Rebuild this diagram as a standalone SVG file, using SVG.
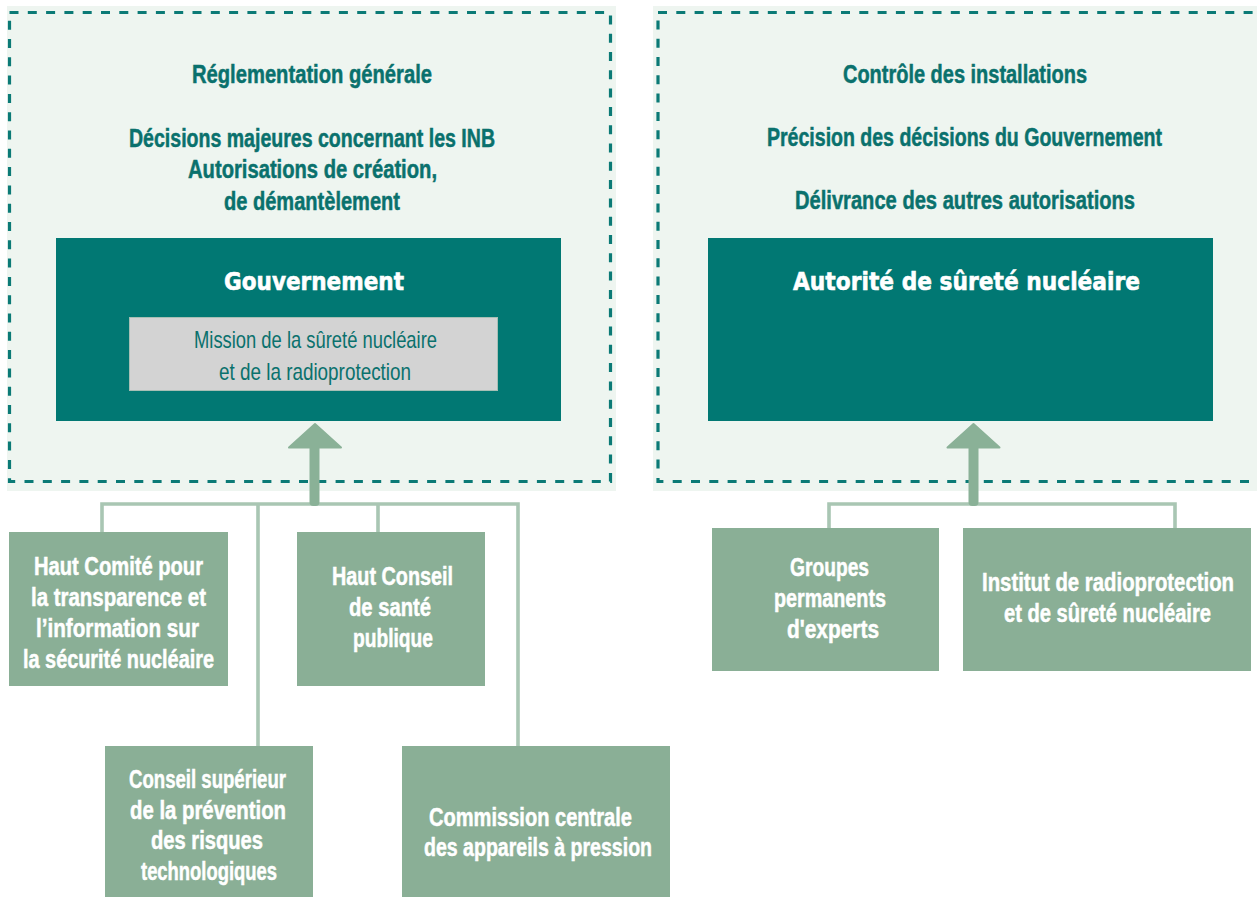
<svg xmlns="http://www.w3.org/2000/svg" width="1257" height="897" viewBox="0 0 1257 897">
  <style>
    .panel { fill: #eef5f0; }
    .frame { fill: none; stroke: #0b7a76; stroke-width: 3.2; stroke-dasharray: 9 9.3; }
    .dark { fill: #017873; }
    .mission { fill: #d3d3d3; stroke: #a7bfb5; stroke-width: 1; }
    .box { fill: #8aaf96; }
    .head { font-family: "Liberation Sans", Arial, sans-serif; font-weight: bold; font-size: 25px; fill: #0a716d; stroke: #0a716d; stroke-width: 0.5; text-anchor: middle; }
    .title { font-family: "DejaVu Sans", "Liberation Sans", sans-serif; font-weight: bold; font-size: 25px; fill: #ffffff; stroke: #ffffff; stroke-width: 0.6; text-anchor: middle; }
    .sub { font-family: "Liberation Sans", Arial, sans-serif; font-size: 24px; fill: #0a716d; text-anchor: middle; }
    .lbl { font-family: "Liberation Sans", Arial, sans-serif; font-weight: bold; font-size: 25px; fill: #ffffff; stroke: #ffffff; stroke-width: 0.5; text-anchor: middle; }
    .link { fill: none; stroke: #a9c6b3; stroke-width: 3.6; }
    .arrow { fill: #8ab197; stroke: #8ab197; stroke-width: 2; stroke-linejoin: round; }
  </style>

  <!-- Government side -->
  <g id="panel-government">
    <rect class="panel" x="7" y="6" width="609" height="485"/>
    <rect class="frame" x="9.5" y="12.5" width="601" height="469"/>
    <text class="head" x="312" y="83" textLength="240" lengthAdjust="spacingAndGlyphs">Réglementation générale</text>
    <text class="head" x="312" y="146.5" textLength="366" lengthAdjust="spacingAndGlyphs">Décisions majeures concernant les INB</text>
    <text class="head" x="312.5" y="178" textLength="249" lengthAdjust="spacingAndGlyphs">Autorisations de création,</text>
    <text class="head" x="312" y="209.5" textLength="176" lengthAdjust="spacingAndGlyphs">de démantèlement</text>
  </g>

  <g id="node-gouvernement">
    <rect class="dark" x="56" y="238" width="505" height="183"/>
    <text class="title" x="314" y="290" textLength="180" lengthAdjust="spacingAndGlyphs">Gouvernement</text>
  </g>

  <g id="node-mission">
    <rect class="mission" x="129.5" y="317.5" width="368" height="73"/>
    <text class="sub" x="315.5" y="348" textLength="243" lengthAdjust="spacingAndGlyphs">Mission de la sûreté nucléaire</text>
    <text class="sub" x="315" y="380" textLength="192" lengthAdjust="spacingAndGlyphs">et de la radioprotection</text>
  </g>

  <!-- Safety authority side -->
  <g id="panel-authority">
    <rect class="panel" x="653" y="6" width="610" height="485"/>
    <rect class="frame" x="658" y="12.5" width="610" height="469"/>
    <text class="head" x="965" y="83" textLength="244" lengthAdjust="spacingAndGlyphs">Contrôle des installations</text>
    <text class="head" x="964.5" y="146" textLength="395" lengthAdjust="spacingAndGlyphs">Précision des décisions du Gouvernement</text>
    <text class="head" x="965" y="208.5" textLength="340" lengthAdjust="spacingAndGlyphs">Délivrance des autres autorisations</text>
  </g>

  <g id="node-asn">
    <rect class="dark" x="708" y="238" width="505" height="183"/>
    <text class="title" x="966.5" y="290" textLength="347" lengthAdjust="spacingAndGlyphs">Autorité de sûreté nucléaire</text>
  </g>

  <!-- Connectors -->
  <g id="connectors">
    <path class="link" d="M102 532 V504 H518 V746 M258 504 V746 M378 504 V532"/>
    <path class="link" d="M829 528 V504 H1175 V528"/>
    <rect class="arrow" x="310.5" y="440" width="8" height="65" rx="3"/>
    <polygon class="arrow" points="315,424 289,447.5 341,447.5"/>
    <rect class="arrow" x="969.5" y="440" width="8" height="65" rx="3"/>
    <polygon class="arrow" points="973.5,424 947.5,447.5 999.5,447.5"/>
  </g>

  <!-- Advisory bodies -->
  <g id="node-hctisn">
    <rect class="box" x="9" y="532" width="219" height="154"/>
    <text class="lbl" x="118.5" y="575" textLength="169" lengthAdjust="spacingAndGlyphs">Haut Comité pour</text>
    <text class="lbl" x="118.5" y="606" textLength="175" lengthAdjust="spacingAndGlyphs">la transparence et</text>
    <text class="lbl" x="117.5" y="637" textLength="163" lengthAdjust="spacingAndGlyphs">l’information sur</text>
    <text class="lbl" x="118.5" y="668" textLength="191" lengthAdjust="spacingAndGlyphs">la sécurité nucléaire</text>
  </g>

  <g id="node-hcsp">
    <rect class="box" x="297" y="532" width="188" height="154"/>
    <text class="lbl" x="392.5" y="585" textLength="121" lengthAdjust="spacingAndGlyphs">Haut Conseil</text>
    <text class="lbl" x="390" y="616" textLength="82" lengthAdjust="spacingAndGlyphs">de santé</text>
    <text class="lbl" x="393" y="647" textLength="80" lengthAdjust="spacingAndGlyphs">publique</text>
  </g>

  <g id="node-cspr">
    <rect class="box" x="105" y="746" width="208" height="151"/>
    <text class="lbl" x="207.5" y="788" textLength="157" lengthAdjust="spacingAndGlyphs">Conseil supérieur</text>
    <text class="lbl" x="208" y="818.5" textLength="156" lengthAdjust="spacingAndGlyphs">de la prévention</text>
    <text class="lbl" x="207" y="849" textLength="112" lengthAdjust="spacingAndGlyphs">des risques</text>
    <text class="lbl" x="209" y="879.5" textLength="136" lengthAdjust="spacingAndGlyphs">technologiques</text>
  </g>

  <g id="node-ccap">
    <rect class="box" x="402" y="746" width="268" height="151"/>
    <text class="lbl" x="530.5" y="826" textLength="203" lengthAdjust="spacingAndGlyphs">Commission centrale</text>
    <text class="lbl" x="538" y="856" textLength="228" lengthAdjust="spacingAndGlyphs">des appareils à pression</text>
  </g>

  <g id="node-gpe">
    <rect class="box" x="712" y="528" width="227" height="143"/>
    <text class="lbl" x="829.5" y="576" textLength="79" lengthAdjust="spacingAndGlyphs">Groupes</text>
    <text class="lbl" x="830" y="607" textLength="112" lengthAdjust="spacingAndGlyphs">permanents</text>
    <text class="lbl" x="833" y="638" textLength="92" lengthAdjust="spacingAndGlyphs">d'experts</text>
  </g>

  <g id="node-irsn">
    <rect class="box" x="963" y="528" width="288" height="143"/>
    <text class="lbl" x="1108" y="591" textLength="252" lengthAdjust="spacingAndGlyphs">Institut de radioprotection</text>
    <text class="lbl" x="1107.5" y="622" textLength="207" lengthAdjust="spacingAndGlyphs">et de sûreté nucléaire</text>
  </g>
</svg>
